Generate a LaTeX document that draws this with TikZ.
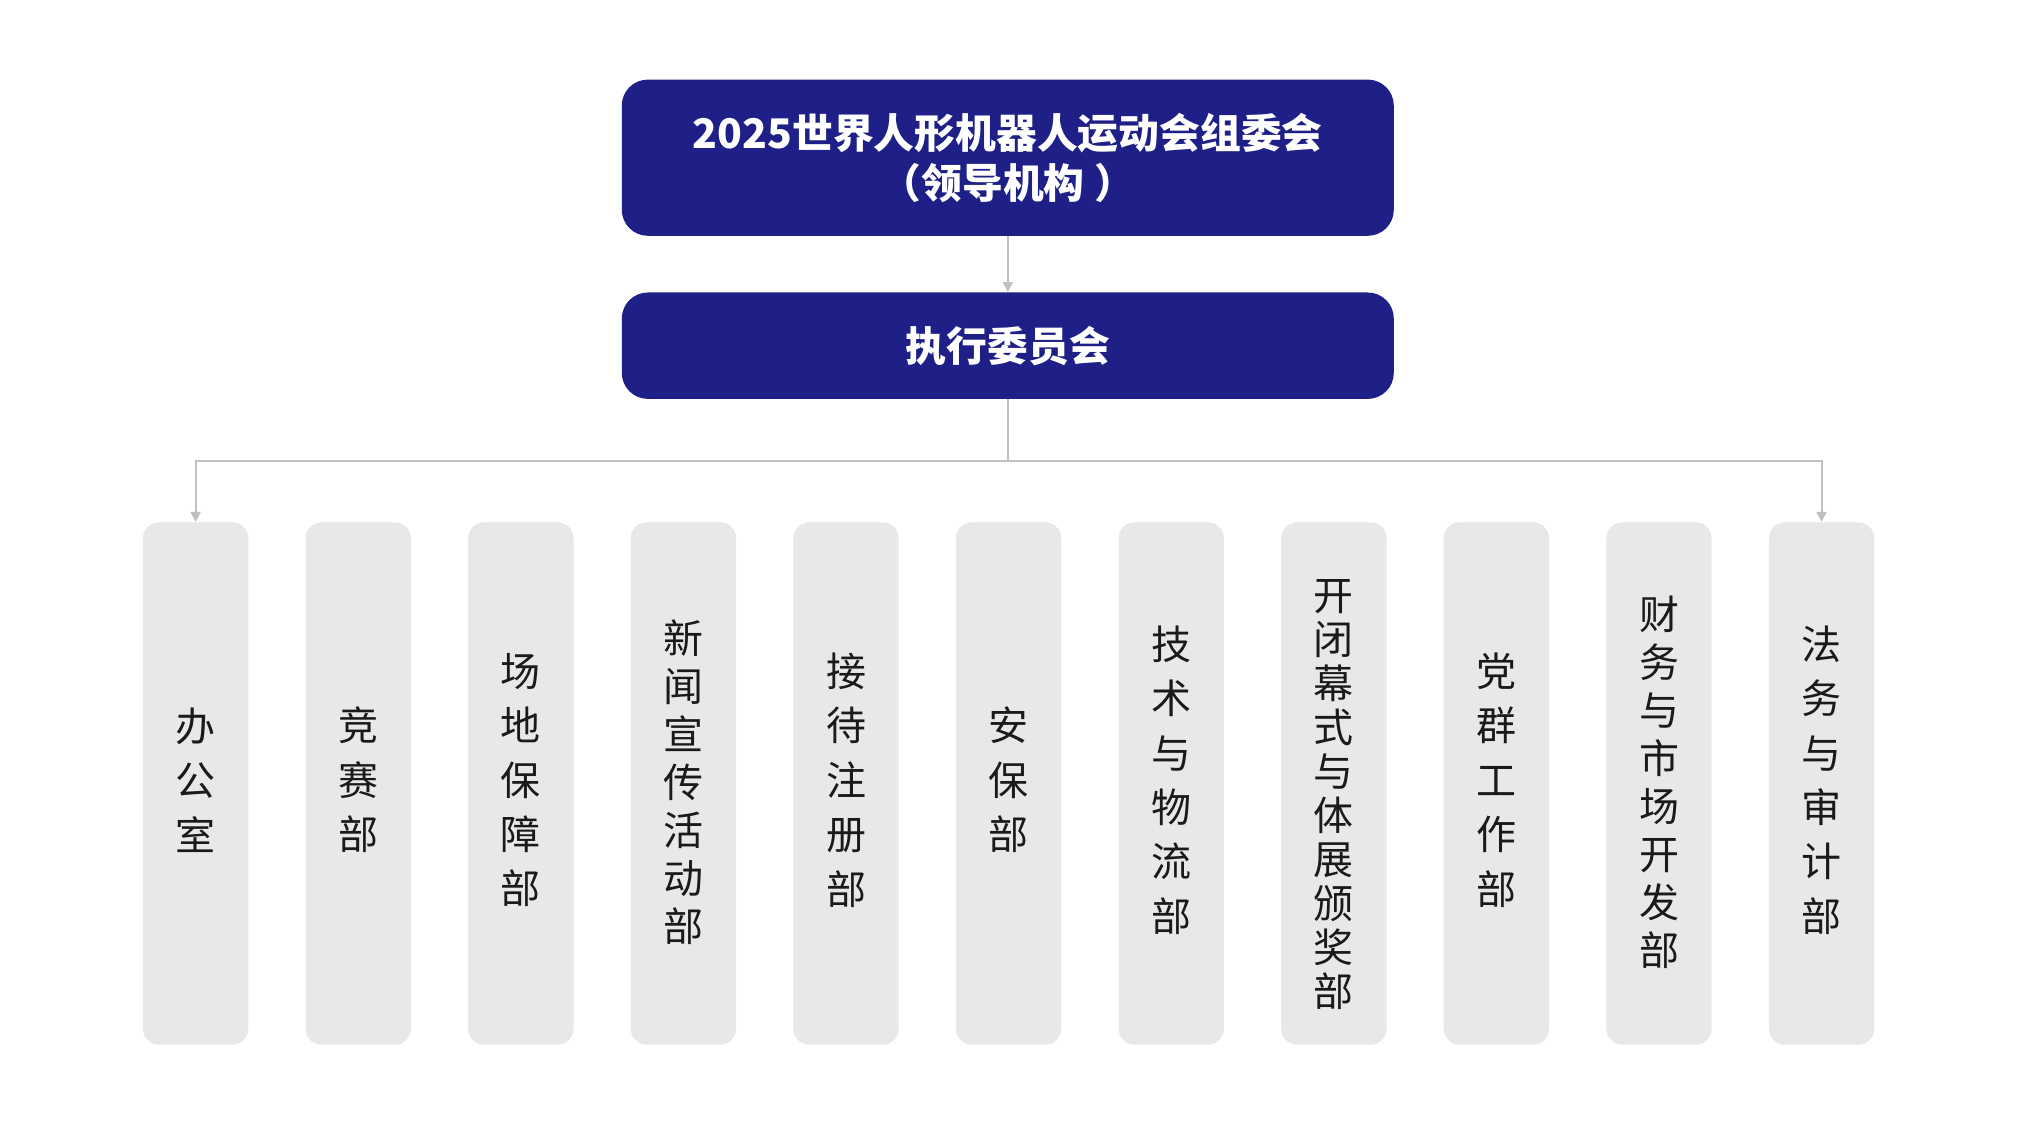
\documentclass[tikz,border=0pt]{standalone}
\usepackage{fontspec}
\setmainfont{Noto Sans CJK SC}
\usetikzlibrary{arrows.meta}
\definecolor{navy}{RGB}{30,32,136}
\definecolor{boxgray}{RGB}{232,232,232}
\definecolor{linegray}{RGB}{192,192,192}
\definecolor{txtdark}{RGB}{26,26,26}
\tikzset{
  topbox/.style={draw=none,fill=navy,rounded corners=13pt,minimum width=386pt,text=white,align=center,inner sep=0pt,font=\bfseries\fontsize{20.4}{25}\selectfont},
  deptbox/.style={draw=none,fill=boxgray,rounded corners=8pt,minimum width=52.7pt,minimum height=261.2pt,inner sep=0pt},
  depttext/.style={inner sep=0pt,text=txtdark,align=center},
  pitchA/.style={font=\fontsize{20}{27.2}\selectfont},
  pitchB/.style={font=\fontsize{20}{24}\selectfont},
  pitchC/.style={font=\fontsize{20}{22}\selectfont},
  conn/.style={draw=linegray,line width=1pt},
  arr/.style={conn,-{Triangle[length=5pt,width=5pt]}}
}
\begin{document}
\begin{tikzpicture}[x=0.5pt,y=-0.5pt]
\useasboundingbox (0,0) rectangle (2018,1128);
\node[topbox,minimum height=78.1pt] (org) at (1007.8,157.7) {2025世界人形机器人运动会组委会\\（领导机构 ）};
\node[topbox,minimum height=53.2pt] (exec) at (1007.8,345.7) {执行委员会};
\draw[arr] (org.south) -- (exec.north);
\foreach \i/\t/\p/\dy in {
  1/办\\公\\室/pitchA/-3.5,
  2/竞\\赛\\部/pitchA/-3.5,
  3/场\\地\\保\\障\\部/pitchA/-3.5,
  4/新\\闻\\宣\\传\\活\\动\\部/pitchB/-1.5,
  5/接\\待\\注\\册\\部/pitchA/-3.5,
  6/安\\保\\部/pitchA/-3.5,
  7/技\\术\\与\\物\\流\\部/pitchA/-3.5,
  8/开\\闭\\幕\\式\\与\\体\\展\\颁\\奖\\部/pitchC/11.5,
  9/党\\群\\工\\作\\部/pitchA/-3.5,
  10/财\\务\\与\\市\\场\\开\\发\\部/pitchB/-1.5,
  11/法\\务\\与\\审\\计\\部/pitchA/-3.5}{
  \node[deptbox] (d\i) at ({195.6+162.6*(\i-1)},783.5) {};
  \node[depttext,\p] (t\i) at ([yshift={-0.5pt*\dy}]d\i.center) {\t};
}
\coordinate (bus) at (exec.south |- 0,460.6);
\draw[arr] (exec.south) -- (bus) -| (d1.north);
\draw[arr] (bus) -| (d11.north);
\end{tikzpicture}
\end{document}
